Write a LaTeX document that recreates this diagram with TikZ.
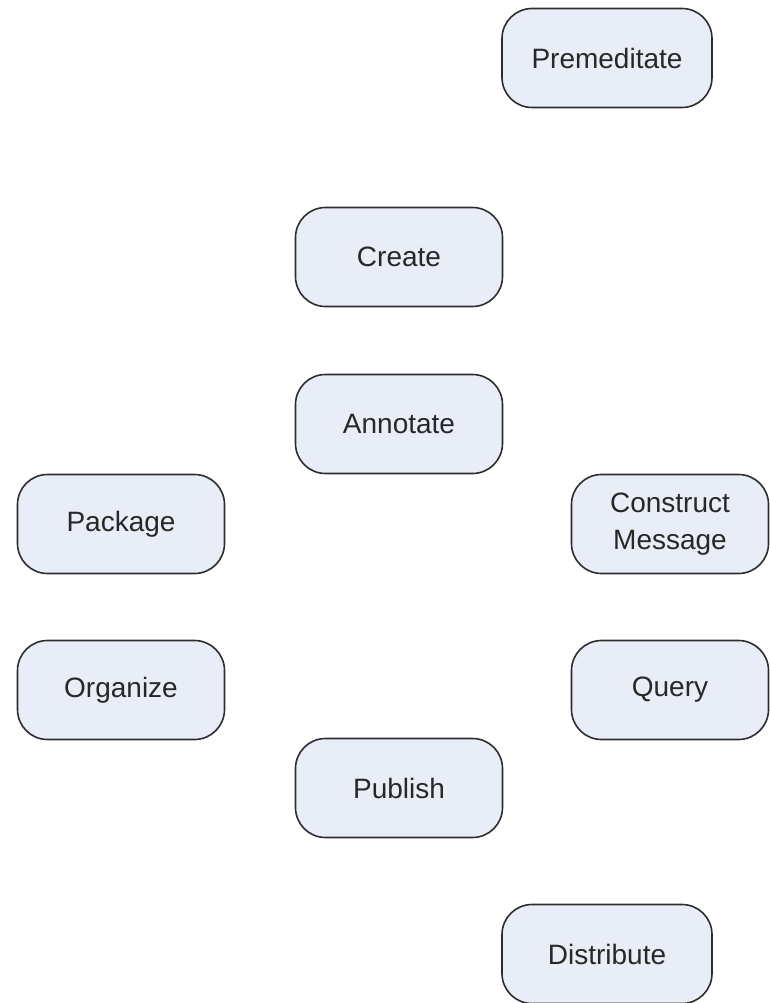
\documentclass[tikz,border=0pt]{standalone}
\usepackage{fontspec}
\setmainfont{Liberation Sans}
\definecolor{boxfill}{RGB}{233,237,247}
\definecolor{boxline}{RGB}{45,45,45}
\definecolor{txt}{RGB}{40,40,40}
\begin{document}
\begin{tikzpicture}[x=1pt,y=-1pt,
  stage/.style={draw=boxline, line width=1.6pt, fill=boxfill, rounded corners=30pt,
    minimum width=207pt, minimum height=99pt, inner sep=0pt, align=center,
    text=txt, font=\fontsize{28}{37}\selectfont},
  narrow/.style={minimum width=197pt}]
\useasboundingbox (0,0) rectangle (769,1003);
\node[stage, minimum width=210pt] (premeditate) at (607,58) {Premeditate};
\node[stage] (create) at (399,257) {Create};
\node[stage] (annotate) at (399,424) {Annotate};
\node[stage] (package) at (121,524) {Package};
\node[stage, narrow] (construct) at (670,524) {Construct\\Message};
\node[stage] (organize) at (121,690) {Organize};
\node[stage, narrow] (query) at (670,690) {Query};
\node[stage] (publish) at (399,788) {Publish};
\node[stage, minimum width=210pt] (distribute) at (607,954) {Distribute};
\end{tikzpicture}
\end{document}
